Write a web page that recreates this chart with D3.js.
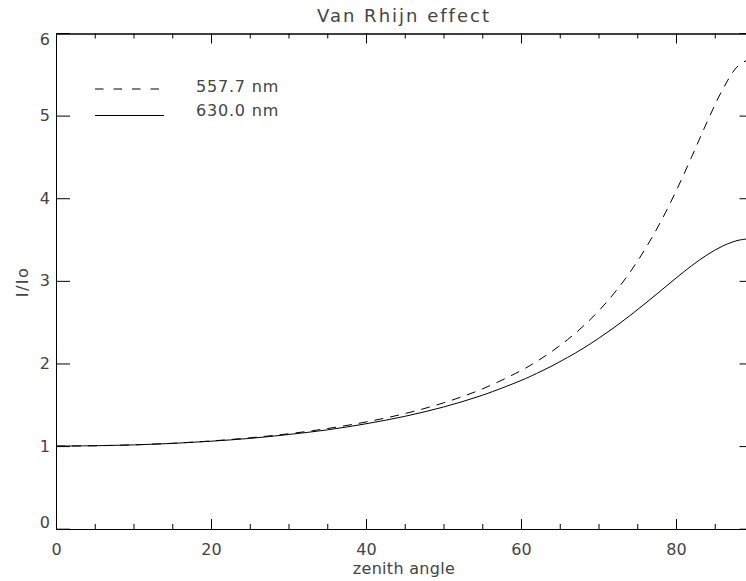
<!DOCTYPE html>
<html lang="en">
<head>
  <meta charset="UTF-8">
  <title>Van Rhijn effect</title>
  <script src="https://d3js.org/d3.v7.min.js"></script>
  <style>
    body { margin: 0; background: #fff; }
    text { font-family: "DejaVu Sans", sans-serif; fill: #444; }
  </style>
</head>
<body>
  <script>
    // zenith angle (deg) and I/Io
    var zenith = [0, 5, 10, 15, 20, 25, 30, 35, 40, 45, 50, 55, 60, 62, 64, 66, 68, 70, 72, 74, 76, 78, 80, 82, 84, 86, 88, 90];
    var green5577 = [1.000, 1.004, 1.015, 1.034, 1.062, 1.100, 1.149, 1.212, 1.292, 1.393, 1.523, 1.691, 1.914, 2.023, 2.147, 2.288, 2.449, 2.634, 2.848, 3.096, 3.382, 3.711, 4.085, 4.496, 4.921, 5.313, 5.601, 5.707];
    var red6300 = [1.000, 1.004, 1.014, 1.032, 1.059, 1.093, 1.140, 1.196, 1.270, 1.360, 1.473, 1.615, 1.794, 1.878, 1.970, 2.072, 2.182, 2.303, 2.434, 2.575, 2.724, 2.878, 3.033, 3.182, 3.314, 3.420, 3.490, 3.514];
    var xTicks = [0, 20, 40, 60, 80];
    var xMinor = [5, 10, 15, 25, 30, 35, 45, 50, 55, 65, 70, 75, 85];
    var yTicks = [0, 1, 2, 3, 4, 5, 6];
    var seriesNames = ["557.7 nm", "630.0 nm"];

    var w = 746;
    var h = 581;

    var x = d3.scaleLinear().domain([0, 90]).range([56, 753.5]);
    var y = d3.scaleLinear().domain([0, 6]).range([528.7, 33]);

    var svg = d3.select("body")
                .append("svg")
                .attr("width", w)
                .attr("height", h);

    // title
    svg.append("text")
       .attr("x", 404)
       .attr("y", 22)
       .attr("text-anchor", "middle")
       .style("font-size", "18px")
       .style("letter-spacing", "2px")
       .text("Van Rhijn effect");

    // bottom axis: major with labels, minor without
    var bottomAxis = svg.append("g").attr("transform", "translate(0,529)");
    bottomAxis.call(d3.axisBottom(x).tickValues(xTicks).tickSize(-10).tickSizeOuter(0).tickPadding(15).tickFormat(d3.format("d")));
    bottomAxis.append("g").call(d3.axisBottom(x).tickValues(xMinor).tickSize(-5).tickSizeOuter(0).tickFormat(""));
    bottomAxis.selectAll("text").style("font-size", "16px").attr("fill", null);

    // top axis, no labels
    var topAxis = svg.append("g").attr("transform", "translate(0,33.5)");
    topAxis.call(d3.axisTop(x).tickValues(xTicks).tickSize(-10).tickSizeOuter(0).tickFormat(""));
    topAxis.append("g").call(d3.axisTop(x).tickValues(xMinor).tickSize(-5).tickSizeOuter(0).tickFormat(""));

    // left axis
    var leftAxis = svg.append("g").attr("transform", "translate(56,0)");
    leftAxis.call(d3.axisLeft(y).tickValues(yTicks).tickSize(-14).tickSizeOuter(0).tickPadding(6).tickFormat(d3.format("d")));
    leftAxis.selectAll("text").style("font-size", "16px").attr("fill", null);
    leftAxis.selectAll(".tick text").filter(function(d) { return d === 0; }).attr("dy", "-0.05em");
    leftAxis.selectAll(".tick text").filter(function(d) { return d === 6; }).attr("dy", "0.7em");

    // right axis
    svg.append("g")
       .attr("transform", "translate(753.5,0)")
       .call(d3.axisRight(y).tickValues(yTicks).tickSize(-14).tickSizeOuter(0).tickFormat(""));

    svg.selectAll(".domain, .tick line").attr("stroke", "#000");

    // axis titles
    svg.append("text")
       .attr("x", 404)
       .attr("y", 574)
       .attr("text-anchor", "middle")
       .style("font-size", "16px")
       .style("letter-spacing", "0.3px")
       .text("zenith angle");

    svg.append("text")
       .attr("transform", "translate(28,282) rotate(-90)")
       .attr("text-anchor", "middle")
       .style("font-size", "16px")
       .style("letter-spacing", "1.5px")
       .text("I/Io");

    // curves
    var line = d3.line()
                 .x(function(d, i) { return x(zenith[i]); })
                 .y(function(d) { return y(d); })
                 .curve(d3.curveCatmullRom.alpha(0.5));

    svg.append("path")
       .attr("d", line(green5577))
       .attr("fill", "none")
       .attr("stroke", "#000")
       .attr("stroke-width", 1)
       .attr("stroke-dasharray", "9,7");

    svg.append("path")
       .attr("d", line(red6300))
       .attr("fill", "none")
       .attr("stroke", "#000")
       .attr("stroke-width", 1);

    // legend
    svg.append("line")
       .attr("x1", 95).attr("x2", 162)
       .attr("y1", 89).attr("y2", 89)
       .attr("stroke", "#000")
       .attr("stroke-dasharray", "8.5,10");
    svg.append("line")
       .attr("x1", 95).attr("x2", 164)
       .attr("y1", 115.5).attr("y2", 115.5)
       .attr("stroke", "#000");

    svg.selectAll(".legend")
       .data(seriesNames)
       .enter()
       .append("text")
       .attr("class", "legend")
       .attr("x", 196)
       .attr("y", function(d, i) { return i === 0 ? 92 : 116; })
       .style("font-size", "16px")
       .style("letter-spacing", "0.8px")
       .text(function(d) { return d; });
  </script>
</body>
</html>
